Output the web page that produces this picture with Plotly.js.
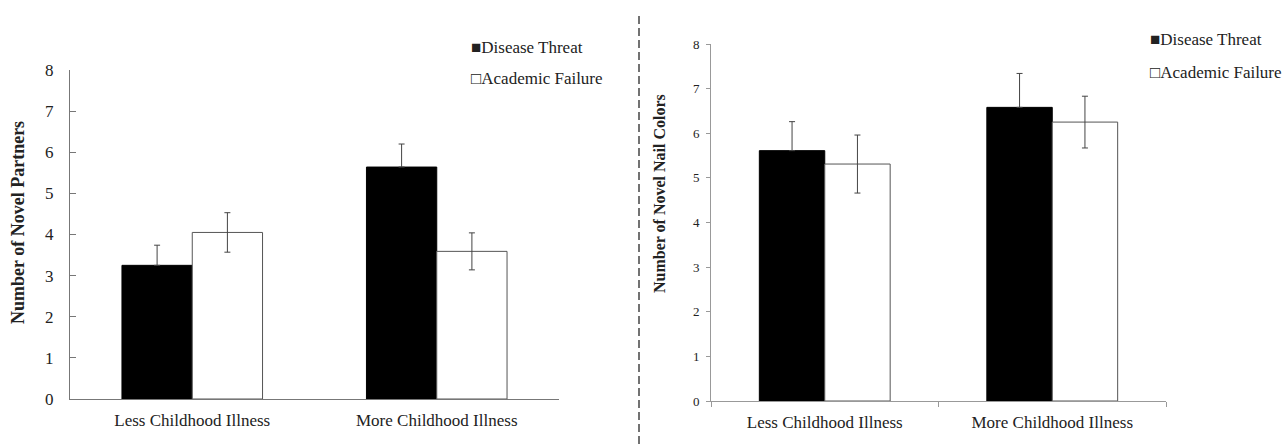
<!DOCTYPE html>
<html>
<head>
<meta charset="utf-8">
<script src="https://cdn.plot.ly/plotly-3.0.1.min.js"></script>
<style>html,body{margin:0;padding:0;background:#fff;}#chart{width:1287px;height:444px;}</style>
</head>
<body>
<div id="chart"></div>
<script>
// ---- data ----
const categories = ["Less Childhood Illness", "More Childhood Illness"];
const seriesNames = ["Disease Threat", "Academic Failure"];
// Left panel: Number of Novel Partners
const partnersDisease = [3.25, 5.64];
const partnersDiseaseErr = [0.49, 0.56];
const partnersAcademic = [4.05, 3.59];
const partnersAcademicErr = [0.48, 0.45];
// Right panel: Number of Novel Nail Colors
const nailDisease = [5.61, 6.58];
const nailDiseaseErr = [0.65, 0.76];
const nailAcademic = [5.31, 6.25];
const nailAcademicErr = [0.65, 0.58];
const yTickVals = [0, 1, 2, 3, 4, 5, 6, 7, 8];
const leftTitle = "Number of Novel Partners";
const rightTitle = "Number of Novel Nail Colors";

const W = 1287, H = 444;
const px = v => v / W;
const py = v => 1 - v / H;
const FONT = "Liberation Serif";
const TXT = "#222";

function barTrace(x, y, err, fill, outline, xa, ya, hideLower) {
  const e = {type: "data", array: err, visible: true, color: "#444", thickness: 1, width: 3};
  if (hideLower) { e.symmetric = false; e.arrayminus = err.map(() => 0); }
  return {
    type: "bar", x: x, y: y, xaxis: xa, yaxis: ya, showlegend: false,
    marker: {color: fill, line: {color: outline, width: 1}},
    error_y: e, hoverinfo: "skip"
  };
}

const data = [
  barTrace(categories, partnersDisease, partnersDiseaseErr, "#000", "#000", "x", "y", true),
  barTrace(categories, partnersAcademic, partnersAcademicErr, "#fff", "#555", "x", "y", false),
  barTrace(categories, nailDisease, nailDiseaseErr, "#000", "#000", "x2", "y2", true),
  barTrace(categories, nailAcademic, nailAcademicErr, "#fff", "#555", "x2", "y2", false)
];

function legendAnn(xPix, yPix, sym, name) {
  return {
    xref: "paper", yref: "paper", x: px(xPix), y: py(yPix),
    xanchor: "left", yanchor: "middle", showarrow: false,
    text: sym + name, font: {family: FONT, size: 17, color: TXT}
  };
}
function titleAnn(xPix, yPix, text, size) {
  return {
    xref: "paper", yref: "paper", x: px(xPix), y: py(yPix),
    xanchor: "center", yanchor: "middle", showarrow: false, textangle: -90,
    text: "<b>" + text + "</b>", font: {family: FONT, size: size, color: TXT}
  };
}

const layout = {
  width: W, height: H,
  margin: {l: 0, r: 0, t: 0, b: 0},
  paper_bgcolor: "#fff", plot_bgcolor: "#fff",
  font: {family: FONT, color: TXT},
  barmode: "group", bargap: 0.425, bargroupgap: 0,
  showlegend: false,
  xaxis: {
    domain: [px(70), px(559)], anchor: "y",
    showline: true, linecolor: "#777", linewidth: 1,
    ticks: "", showgrid: false, zeroline: false,
    tickfont: {family: FONT, size: 17, color: TXT},
    ticklabelstandoff: 6, fixedrange: true
  },
  yaxis: {
    domain: [py(399), py(70)], anchor: "x",
    range: [0, 8], tickvals: yTickVals,
    showline: true, linecolor: "#777", linewidth: 1,
    ticks: "inside", ticklen: 6, tickcolor: "#777",
    showgrid: false, zeroline: false,
    tickfont: {family: FONT, size: 17, color: TXT},
    ticklabelstandoff: 12, fixedrange: true
  },
  xaxis2: {
    domain: [px(711), px(1166)], anchor: "y2",
    showline: true, linecolor: "#999", linewidth: 1,
    ticks: "outside", tickson: "boundaries", ticklen: 5, tickcolor: "#999",
    showgrid: false, zeroline: false,
    tickfont: {family: FONT, size: 17, color: TXT},
    ticklabelstandoff: 6, fixedrange: true
  },
  yaxis2: {
    domain: [py(401), py(44)], anchor: "x2",
    range: [0, 8], tickvals: yTickVals,
    showline: true, linecolor: "#999", linewidth: 1,
    ticks: "outside", ticklen: 4, tickcolor: "#999",
    showgrid: false, zeroline: false,
    tickfont: {family: FONT, size: 13, color: TXT},
    ticklabelstandoff: 4, fixedrange: true
  },
  shapes: [{
    type: "line", xref: "paper", yref: "paper",
    x0: px(639), x1: px(639), y0: 0, y1: py(12),
    line: {color: "#444", width: 1.5, dash: "8px,4px"}
  }],
  annotations: [
    titleAnn(18, 223, leftTitle, 18),
    titleAnn(659, 194, rightTitle, 16),
    legendAnn(469, 47, "■", seriesNames[0]),
    legendAnn(469, 79, "□", seriesNames[1]),
    legendAnn(1148, 40, "■", seriesNames[0]),
    legendAnn(1148, 72, "□", seriesNames[1])
  ]
};

Plotly.newPlot("chart", data, layout, {displayModeBar: false, staticPlot: true});
</script>
</body>
</html>
